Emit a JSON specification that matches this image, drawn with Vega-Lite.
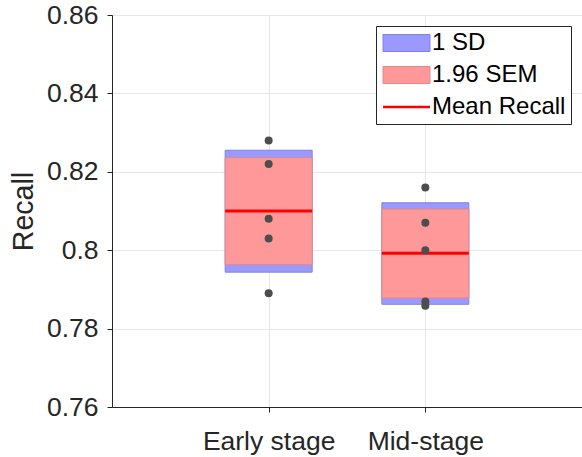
{
  "$schema": "https://vega.github.io/schema/vega-lite/v6.json",
  "width": 470,
  "height": 392,
  "autosize": {"type": "none"},
  "padding": {"left": 112, "top": 15, "right": 0, "bottom": 50},
  "background": "white",
  "config": {
    "font": "Liberation Sans",
    "view": {"stroke": "#9a9a9a", "strokeWidth": 1},
    "axis": {
      "labelFont": "Liberation Sans",
      "titleFont": "Liberation Sans",
      "labelColor": "#262626",
      "titleColor": "#262626",
      "domainColor": "#262626",
      "tickColor": "#262626",
      "gridColor": "#e6e6e6",
      "labelFontSize": 26.5,
      "titleFontSize": 28.6,
      "titleFontWeight": "normal",
      "tickSize": 5
    },
    "legend": {
      "labelFont": "Liberation Sans",
      "labelFontSize": 24,
      "labelColor": "#000000",
      "orient": "top-right",
      "offset": 11,
      "padding": 5,
      "strokeColor": "#262626",
      "fillColor": "white",
      "symbolSize": 400,
      "symbolOpacity": 1,
      "labelOffset": 27,
      "rowPadding": 8
    }
  },
  "datasets": {
    "stats": [
      {"group": "Early stage", "series": "1 SD", "lo": 0.7944, "hi": 0.8255},
      {"group": "Early stage", "series": "1.96 SEM", "lo": 0.7963, "hi": 0.8236},
      {"group": "Early stage", "series": "Mean Recall", "lo": 0.810, "hi": 0.810},
      {"group": "Mid-stage", "series": "1 SD", "lo": 0.7862, "hi": 0.8121},
      {"group": "Mid-stage", "series": "1.96 SEM", "lo": 0.7878, "hi": 0.8105},
      {"group": "Mid-stage", "series": "Mean Recall", "lo": 0.7992, "hi": 0.7992}
    ],
    "points": [
      {"group": "Early stage", "recall": 0.828},
      {"group": "Early stage", "recall": 0.822},
      {"group": "Early stage", "recall": 0.808},
      {"group": "Early stage", "recall": 0.803},
      {"group": "Early stage", "recall": 0.789},
      {"group": "Mid-stage", "recall": 0.816},
      {"group": "Mid-stage", "recall": 0.807},
      {"group": "Mid-stage", "recall": 0.800},
      {"group": "Mid-stage", "recall": 0.7869},
      {"group": "Mid-stage", "recall": 0.7858}
    ]
  },
  "encoding": {
    "x": {
      "field": "group",
      "type": "nominal",
      "sort": ["Early stage", "Mid-stage"],
      "scale": {"type": "point", "padding": 1},
      "axis": {"title": null, "labelAngle": 0, "grid": true, "labelPadding": 16, "domainWidth": 1}
    }
  },
  "layer": [
    {
      "data": {"name": "stats"},
      "transform": [{"filter": "false"}],
      "mark": {"type": "point", "filled": true},
      "encoding": {
        "y": {
          "field": "lo",
          "type": "quantitative",
          "scale": {"domain": [0.76, 0.86], "nice": false, "zero": false},
          "axis": {"title": "Recall", "values": [0.76, 0.78, 0.8, 0.82, 0.84, 0.86], "format": ".2~f", "labelPadding": 9, "titlePadding": 8, "grid": true}
        },
        "fill": {
          "field": "series",
          "type": "nominal",
          "scale": {"domain": ["1 SD", "1.96 SEM", "Mean Recall"], "range": ["#9999ff", "#ff9999", "#ff0000"]},
          "legend": {"title": null}
        },
        "stroke": {
          "field": "series",
          "type": "nominal",
          "scale": {"domain": ["1 SD", "1.96 SEM", "Mean Recall"], "range": ["#8080e6", "#e08a8a", "#ff0000"]},
          "legend": {"title": null}
        },
        "shape": {
          "field": "series",
          "type": "nominal",
          "scale": {"domain": ["1 SD", "1.96 SEM", "Mean Recall"], "range": ["M-1,-0.85H3.7V0.85H-1Z", "M-1,-0.85H3.7V0.85H-1Z", "M-1,0H3.7"]},
          "legend": {"title": null}
        },
        "strokeWidth": {
          "field": "series",
          "type": "nominal",
          "scale": {"type": "ordinal", "domain": ["1 SD", "1.96 SEM", "Mean Recall"], "range": [1, 1, 2.5]},
          "legend": {"title": null}
        }
      }
    },
    {
      "data": {"name": "stats"},
      "transform": [{"filter": "datum.series !== 'Mean Recall'"}],
      "mark": {"type": "bar", "width": 87, "strokeWidth": 1},
      "encoding": {
        "y": {"field": "lo", "type": "quantitative"},
        "y2": {"field": "hi"},
        "fill": {"field": "series", "type": "nominal", "legend": {"title": null}},
        "stroke": {"field": "series", "type": "nominal", "legend": {"title": null}}
      }
    },
    {
      "data": {"name": "stats"},
      "transform": [{"filter": "datum.series === 'Mean Recall'"}],
      "mark": {"type": "tick", "orient": "horizontal", "size": 87, "thickness": 3, "color": "#ff0000", "opacity": 1},
      "encoding": {
        "y": {"field": "lo", "type": "quantitative"}
      }
    },
    {
      "data": {"name": "points"},
      "mark": {"type": "circle", "size": 64, "color": "#4d4d4d", "opacity": 1},
      "encoding": {
        "y": {"field": "recall", "type": "quantitative"}
      }
    }
  ]
}
